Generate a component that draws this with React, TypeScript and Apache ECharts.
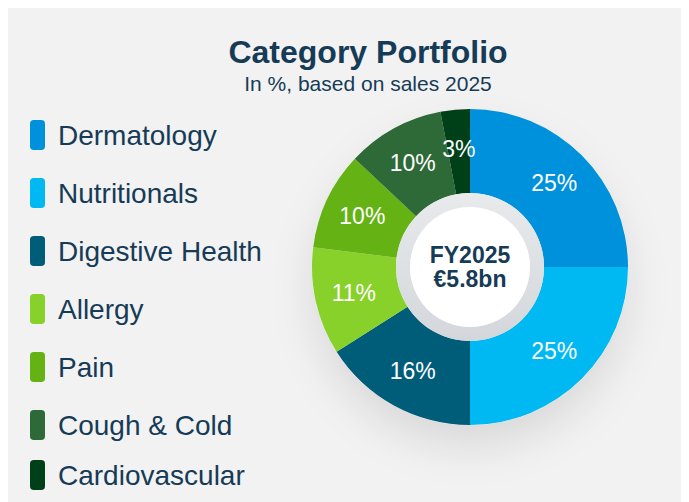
import React, { useEffect, useRef } from "react";
import * as echarts from "echarts";

const categories = ["Dermatology", "Nutritionals", "Digestive Health", "Allergy", "Pain", "Cough & Cold", "Cardiovascular"];
const shares = [25, 25, 16, 11, 10, 10, 3];
const colors = ["#0091dc", "#00b9f2", "#005d7a", "#88d02a", "#64b214", "#2d6a37", "#004019"];
const titleText = "Category Portfolio";
const subtitleText = "In %, based on sales 2025";
const centerLines = ["FY2025", "€5.8bn"];

const FONT = "'Liberation Sans', Arial, sans-serif";
const NAVY = "#163b57";

export default function App() {
  const ref = useRef<HTMLDivElement>(null);
  useEffect(() => {
    if (!ref.current) return;
    const chart = echarts.init(ref.current, undefined, { renderer: "svg" });
    const center = [462, 259];
    const data = categories.map((name, i) => ({ name, value: shares[i], itemStyle: { color: colors[i] } }));
    const legendBase = {
      orient: "vertical",
      left: 17,
      itemWidth: 15,
      itemHeight: 30,
      icon: "roundRect",
      selectedMode: false,
      textStyle: { fontFamily: FONT, fontSize: 28, color: NAVY, padding: [0, 0, 0, 8] },
    };
    chart.setOption({
      animation: false,
      backgroundColor: "#f2f2f2",
      title: {
        text: titleText,
        subtext: subtitleText,
        left: 355,
        top: 23,
        textAlign: "center",
        itemGap: 5,
        textStyle: { fontFamily: FONT, fontSize: 32, fontWeight: "bold", color: NAVY },
        subtextStyle: { fontFamily: FONT, fontSize: 21, color: NAVY },
      },
      legend: [
        { ...legendBase, data: categories.slice(0, 6), top: 107, itemGap: 28 },
        { ...legendBase, data: categories.slice(6), top: 447 },
      ],
      series: [
        {
          type: "pie",
          silent: true,
          center,
          radius: [0, 158],
          z: 0,
          label: { show: false },
          labelLine: { show: false },
          data: [{ value: 1, name: "shadow", itemStyle: { color: "#eeeeee", shadowColor: "rgba(0,0,0,0.10)", shadowBlur: 40, shadowOffsetY: 22 } }],
        },
        {
          type: "pie",
          name: "Category Portfolio",
          center,
          radius: [74, 158],
          startAngle: 90,
          clockwise: true,
          z: 2,
          label: {
            show: true,
            position: "inside",
            formatter: "{c}%",
            color: "#ffffff",
            fontFamily: FONT,
            fontSize: 23,
          },
          labelLine: { show: false },
          emphasis: { disabled: true },
          data,
        },
        {
          type: "pie",
          silent: true,
          center,
          radius: [60, 74],
          z: 3,
          label: { show: false },
          labelLine: { show: false },
          data: [
            {
              value: 1,
              name: "ring",
              itemStyle: {
                color: new echarts.graphic.LinearGradient(0, 0, 0, 1, [
                  { offset: 0, color: "#e8eaec" },
                  { offset: 1, color: "#d3d7db" },
                ]),
              },
            },
          ],
        },
        {
          type: "pie",
          silent: true,
          center,
          radius: [0, 60],
          z: 4,
          labelLine: { show: false },
          label: {
            show: true,
            position: "center",
            formatter: centerLines.join("\n"),
            fontFamily: FONT,
            fontSize: 23,
            fontWeight: "bold",
            color: NAVY,
            lineHeight: 24,
          },
          data: [{ value: 1, name: "total", itemStyle: { color: "#ffffff" } }],
        },
      ],
    });
    return () => chart.dispose();
  }, []);
  return <div ref={ref} style={{ width: 681, height: 494 }} />;
}
